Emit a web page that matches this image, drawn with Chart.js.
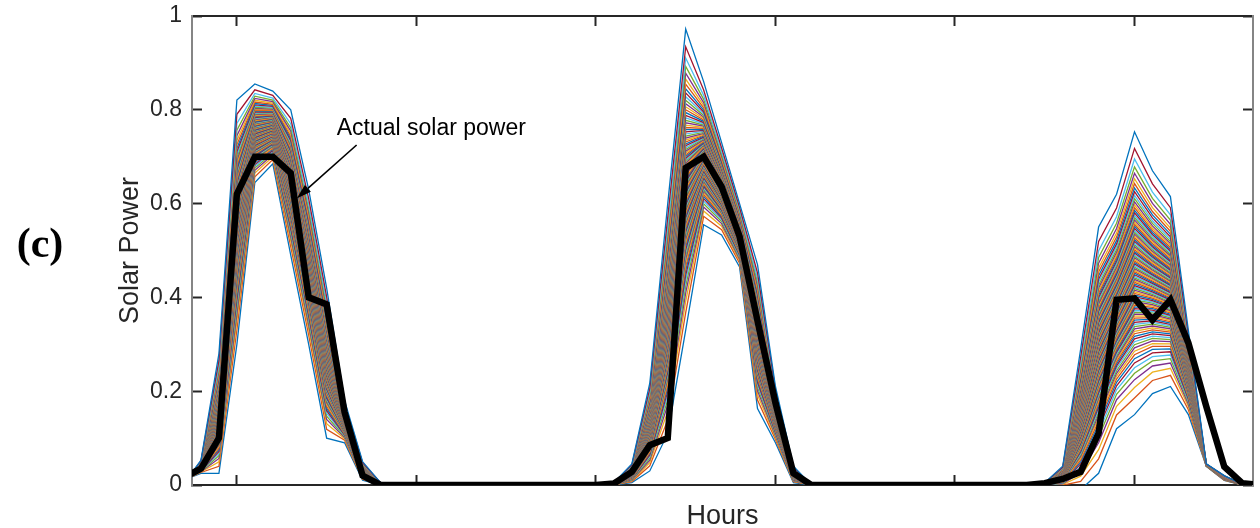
<!DOCTYPE html>
<html>
<head>
<meta charset="utf-8">
<title>Solar power scenarios</title>
<script src="https://cdn.jsdelivr.net/npm/chart.js@4.4.0/dist/chart.umd.min.js"></script>
<style>
  html, body { margin: 0; padding: 0; background: #fff; }
  #wrap { width: 1260px; height: 528px; }
</style>
</head>
<body>
<div id="wrap"><canvas id="solarChart" width="1260" height="528"></canvas></div>
<script>
// Hour index of every sample
const hours = [
  7, 8, 9, 10, 11, 12, 13, 14, 15, 16, 17, 18,
  19, 20, 21, 22, 23, 24, 25, 26, 27, 28, 29, 30,
  31, 32, 33, 34, 35, 36, 37, 38, 39, 40, 41, 42,
  43, 44, 45, 46, 47, 48, 49, 50, 51, 52, 53, 54,
  55, 56, 57, 58, 59, 60, 61, 62, 63, 64, 65, 66, 67
];

// Measured solar power (normalised)
const actualPower = [
  0.015, 0.035, 0.10, 0.62, 0.70, 0.70, 0.665, 0.40, 0.385, 0.155, 0.02, 0,
  0, 0, 0, 0, 0, 0, 0, 0, 0, 0, 0, 0,
  0.003, 0.028, 0.085, 0.10, 0.676, 0.70, 0.636, 0.53, 0.35, 0.175, 0.025, 0,
  0, 0, 0, 0, 0, 0, 0, 0, 0, 0, 0, 0,
  0.004, 0.013, 0.028, 0.11, 0.395, 0.398, 0.352, 0.395, 0.303, 0.167, 0.039, 0.004, 0
];

// Highest and lowest forecast scenario
const upperBound = [
  0, 0.053, 0.28, 0.821, 0.855, 0.84, 0.80, 0.63, 0.42, 0.18, 0.05, 0.005,
  0, 0, 0, 0, 0, 0, 0, 0, 0, 0, 0, 0,
  0.005, 0.045, 0.217, 0.60, 0.972, 0.86, 0.73, 0.60, 0.47, 0.21, 0.04, 0,
  0, 0, 0, 0, 0, 0, 0, 0, 0, 0, 0, 0,
  0.005, 0.04, 0.29, 0.55, 0.62, 0.753, 0.67, 0.615, 0.33, 0.045, 0.02, 0.002, 0
];
const lowerBound = [
  0.01, 0.025, 0.025, 0.30, 0.645, 0.685, 0.49, 0.30, 0.10, 0.09, 0.01, 0,
  0, 0, 0, 0, 0, 0, 0, 0, 0, 0, 0, 0,
  0, 0.005, 0.03, 0.11, 0.33, 0.555, 0.533, 0.465, 0.163, 0.09, 0.005, 0,
  0, 0, 0, 0, 0, 0, 0, 0, 0, 0, 0, 0,
  0, -0.003, -0.01, 0.025, 0.12, 0.15, 0.195, 0.21, 0.15, 0.04, 0.01, 0, 0
];

// Where each scenario sits inside the band (0 = lowest, 1 = highest)
const scenarioLevels = [
  0, 0.0586, 0.0958, 0.1237, 0.1465, 0.1658, 0.1828, 0.1980, 0.2118, 0.2245,
  0.2364, 0.2474, 0.2579, 0.2678, 0.2772, 0.2862, 0.2949, 0.3032, 0.3113, 0.3191,
  0.3267, 0.3340, 0.3412, 0.3482, 0.3550, 0.3617, 0.3683, 0.3747, 0.3810, 0.3873,
  0.3934, 0.3995, 0.4054, 0.4113, 0.4172, 0.4229, 0.4287, 0.4343, 0.4400, 0.4455,
  0.4511, 0.4566, 0.4621, 0.4675, 0.4730, 0.4784, 0.4838, 0.4892, 0.4946, 0.5000,
  0.5054, 0.5108, 0.5162, 0.5216, 0.5270, 0.5325, 0.5379, 0.5434, 0.5489, 0.5545,
  0.5600, 0.5657, 0.5713, 0.5771, 0.5828, 0.5887, 0.5946, 0.6005, 0.6066, 0.6127,
  0.6190, 0.6253, 0.6317, 0.6383, 0.6450, 0.6518, 0.6588, 0.6660, 0.6733, 0.6809,
  0.6887, 0.6968, 0.7051, 0.7138, 0.7228, 0.7322, 0.7421, 0.7526, 0.7636, 0.7755,
  0.7882, 0.8020, 0.8172, 0.8342, 0.8535, 0.8763, 0.9042, 0.9414, 1
];

const yTicks = [0, 0.2, 0.4, 0.6, 0.8, 1];

// Line colour cycle
const lineColors = ['#0072BD', '#D95319', '#EDB120', '#7E2F8E', '#77AC30', '#4DBEEE', '#A2142F'];

const sansFont = "'Liberation Sans', Arial, Helvetica, sans-serif";
const axisColor = '#262626';

Chart.defaults.font.family = sansFont;
Chart.defaults.color = axisColor;

const datasets = [{
    label: 'Actual solar power',
    data: hours.map((h, i) => ({ x: h, y: actualPower[i] })),
    borderColor: '#000000',
    borderWidth: 6.5,
    order: 0
}];

scenarioLevels.forEach((lv, k) => {
    datasets.push({
        label: 'Scenario ' + (k + 1),
        data: hours.map((h, i) => ({ x: h, y: lowerBound[i] + lv * (upperBound[i] - lowerBound[i]) })),
        borderColor: lineColors[k % lineColors.length],
        borderWidth: 1.3,
        order: scenarioLevels.length - k + 1
    });
});

// arrow + text pointing at the measured curve
const labelText = 'Actual solar power';
const labelAt = { x: 15.56, y: 0.746 };
const arrowFrom = { x: 16.67, y: 0.725 };
const arrowTo = { x: 13.33, y: 0.611 };

const annotations = {
    id: 'annotations',
    afterDatasetsDraw(chart) {
        const { ctx, scales } = chart;
        const xs = scales.x, ys = scales.y;
        ctx.save();
        ctx.fillStyle = '#000';
        ctx.font = '23px ' + sansFont;
        ctx.textBaseline = 'alphabetic';
        ctx.textAlign = 'left';
        ctx.fillText(labelText, xs.getPixelForValue(labelAt.x), ys.getPixelForValue(labelAt.y));

        const x0 = xs.getPixelForValue(arrowFrom.x), y0 = ys.getPixelForValue(arrowFrom.y);
        const x1 = xs.getPixelForValue(arrowTo.x), y1 = ys.getPixelForValue(arrowTo.y);
        const ang = Math.atan2(y1 - y0, x1 - x0);
        const headLen = 15, headHalf = 4.5;
        const bx = x1 - headLen * Math.cos(ang), by = y1 - headLen * Math.sin(ang);
        ctx.strokeStyle = '#000';
        ctx.lineWidth = 1.6;
        ctx.beginPath();
        ctx.moveTo(x0, y0);
        ctx.lineTo(bx, by);
        ctx.stroke();
        ctx.beginPath();
        ctx.moveTo(x1, y1);
        ctx.lineTo(bx + headHalf * Math.sin(ang), by - headHalf * Math.cos(ang));
        ctx.lineTo(bx - headHalf * Math.sin(ang), by + headHalf * Math.cos(ang));
        ctx.closePath();
        ctx.fill();
        ctx.restore();
    },
    afterDraw(chart) {
        const ctx = chart.ctx;
        ctx.save();
        ctx.fillStyle = '#000';
        ctx.font = "bold 42px 'Liberation Serif', 'Times New Roman', serif";
        ctx.textAlign = 'center';
        ctx.textBaseline = 'alphabetic';
        ctx.fillText('(c)', 40, 257);
        ctx.restore();
    }
};

const tickGrid = {
    display: true,
    drawOnChartArea: false,
    drawTicks: true,
    tickLength: -10,
    tickColor: axisColor,
    tickWidth: 2,
    color: axisColor
};
const hourRange = { min: 7.5, max: 66.6 };

// fixed box sizes so the plot frame lands where it should
const fixBox = (w, h) => s => {
    if (w !== null) s.width = w;
    if (h !== null) s.height = h;
    s.paddingTop = 0; s.paddingBottom = 0;
    s.paddingLeft = 0; s.paddingRight = 0;
};

new Chart(document.getElementById('solarChart'), {
    type: 'line',
    data: { datasets },
    options: {
        responsive: false,
        animation: false,
        devicePixelRatio: 1,
        layout: { padding: 0 },
        elements: {
            point: { radius: 0, hoverRadius: 0 },
            line: { tension: 0, borderJoinStyle: 'miter', borderCapStyle: 'butt' }
        },
        plugins: {
            legend: { display: false },
            tooltip: { enabled: false }
        },
        scales: {
            x: {
                type: 'linear',
                position: 'bottom',
                min: hourRange.min,
                max: hourRange.max,
                ticks: { stepSize: 10, includeBounds: false, callback: () => '' },
                grid: tickGrid,
                border: { display: true, color: axisColor, width: 2 },
                title: {
                    display: true,
                    text: 'Hours',
                    color: axisColor,
                    font: { size: 27 },
                    padding: { top: 0, bottom: -5 }
                },
                afterFit: fixBox(null, 43)
            },
            xTop: {
                type: 'linear',
                position: 'top',
                min: hourRange.min,
                max: hourRange.max,
                ticks: { stepSize: 10, includeBounds: false, callback: () => '' },
                grid: tickGrid,
                border: { display: true, color: axisColor, width: 2 },
                afterFit: fixBox(null, 16)
            },
            y: {
                type: 'linear',
                position: 'left',
                min: 0,
                max: 1,
                afterBuildTicks: s => { s.ticks = yTicks.map(v => ({ value: v })); },
                ticks: {
                    font: { size: 23 },
                    color: axisColor,
                    padding: 20,
                    callback: v => String(Math.round(v * 10) / 10)
                },
                grid: tickGrid,
                border: { display: true, color: '#858585', width: 2 },
                title: {
                    display: true,
                    text: 'Solar Power',
                    color: axisColor,
                    font: { size: 27 },
                    padding: { top: 114, bottom: 0 }
                },
                afterFit: fixBox(192, null)
            },
            yRight: {
                type: 'linear',
                position: 'right',
                min: 0,
                max: 1,
                afterBuildTicks: s => { s.ticks = yTicks.map(v => ({ value: v })); },
                ticks: { callback: () => '' },
                grid: tickGrid,
                border: { display: true, color: '#858585', width: 2 },
                afterFit: fixBox(7, null)
            }
        }
    },
    plugins: [annotations]
});
</script>
</body>
</html>
